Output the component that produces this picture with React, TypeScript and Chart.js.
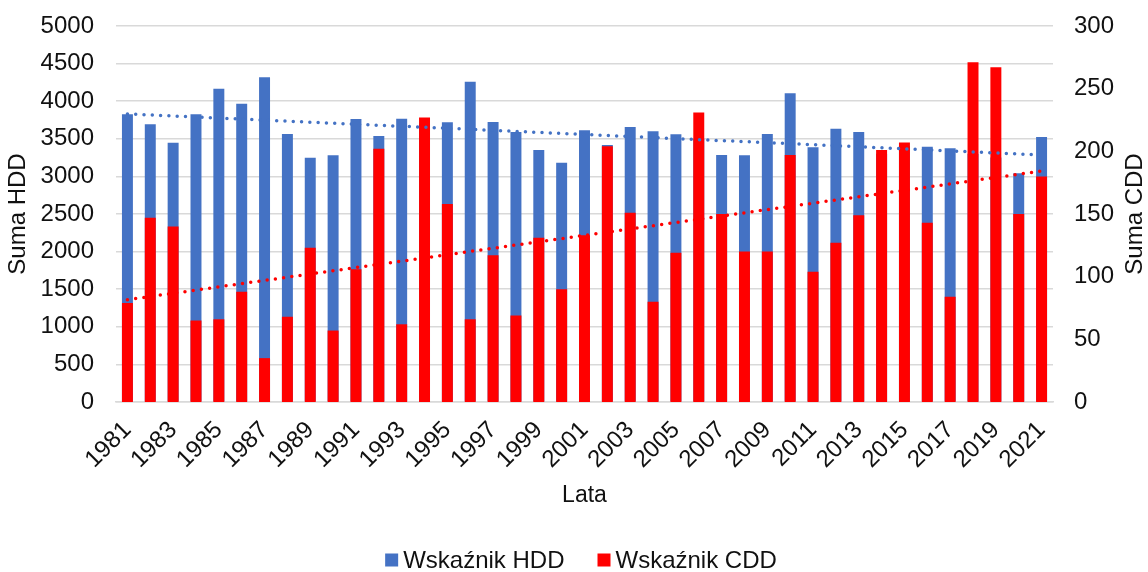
import React, { useEffect, useRef } from "react";
import { Chart, registerables } from "chart.js";

Chart.register(...registerables);

const years = [
  "1981","1982","1983","1984","1985","1986","1987","1988","1989","1990",
  "1991","1992","1993","1994","1995","1996","1997","1998","1999","2000",
  "2001","2002","2003","2004","2005","2006","2007","2008","2009","2010",
  "2011","2012","2013","2014","2015","2016","2017","2018","2019","2020","2021",
];

const hddValues = [
  3826, 3693, 3449, 3826, 4167, 3967, 4318, 3564, 3249, 3280,
  3763, 3537, 3768, 3700, 3719, 4260, 3723, 3590, 3351, 3182,
  3613, 3418, 3657, 3600, 3560, 3500, 3285, 3280, 3564, 4105,
  3387, 3635, 3590, 3300, 3400, 3395, 3373, 3300, 3250, 3041, 3524,
];

const cddValues = [
  79, 147, 140, 65, 66, 88, 35, 68, 123, 57,
  106, 202, 62, 227, 158, 66, 117, 69, 131, 90,
  133, 204, 151, 80, 119, 231, 150, 120, 120, 197,
  104, 127, 149, 201, 207, 143, 84, 271, 267, 150, 180,
];

// trend line end values (first year, last year)
const hddTrend = [3830, 3285];
const cddTrend = [81.6, 184.3];

const leftTicks = [0, 500, 1000, 1500, 2000, 2500, 3000, 3500, 4000, 4500, 5000];
const rightTicks = [0, 50, 100, 150, 200, 250, 300];

const FONT = "'Liberation Sans', Arial, sans-serif";
const TXT = "#111111";
const FS = 24;
const BLUE = "#4472C4";
const RED = "#FF0000";

function trendData(ends: number[]) {
  const last = years.length - 1;
  return years.map((_, i) => (i === 0 ? ends[0] : i === last ? ends[1] : null));
}

const extrasPlugin = {
  id: "extras",
  afterDraw(chart: any) {
    const { ctx, chartArea } = chart;
    ctx.save();
    ctx.font = `${FS}px ${FONT}`;
    ctx.fillStyle = TXT;
    // right axis title, reading bottom-to-top
    ctx.textAlign = "center";
    ctx.textBaseline = "middle";
    ctx.save();
    ctx.translate(1135, (chartArea.top + chartArea.bottom) / 2);
    ctx.rotate(-Math.PI / 2);
    ctx.fillText("Suma CDD", 0, 0);
    ctx.restore();
    // legend
    const items = [0, 1].map((i) => ({
      label: chart.data.datasets[i].label as string,
      color: chart.data.datasets[i].backgroundColor as string,
    }));
    const box = 13;
    const gap = 5;
    const itemGap = 33;
    const widths = items.map((it) => box + gap + ctx.measureText(it.label).width);
    const total = widths[0] + itemGap + widths[1];
    let x = 581 - total / 2;
    const cy = 560;
    ctx.textAlign = "left";
    items.forEach((it, i) => {
      ctx.fillStyle = it.color;
      ctx.fillRect(x, cy - box / 2, box, box);
      ctx.fillStyle = TXT;
      ctx.fillText(it.label, x + box + gap, cy + 1);
      x += widths[i] + itemGap;
    });
    ctx.restore();
  },
};

export default function App() {
  const ref = useRef<HTMLCanvasElement | null>(null);

  useEffect(() => {
    document.body.style.margin = "0";
    const canvas = ref.current;
    if (!canvas) return;
    const chart = new Chart(canvas, {
      type: "bar",
      data: {
        labels: years,
        datasets: [
          {
            type: "bar",
            label: "Wskaźnik HDD",
            data: hddValues,
            backgroundColor: BLUE,
            borderWidth: 0,
            yAxisID: "y",
            grouped: false,
            order: 3,
            barPercentage: 0.48,
            categoryPercentage: 1,
          } as any,
          {
            type: "bar",
            label: "Wskaźnik CDD",
            data: cddValues,
            backgroundColor: RED,
            borderWidth: 0,
            yAxisID: "y1",
            grouped: false,
            order: 2,
            barPercentage: 0.48,
            categoryPercentage: 1,
          } as any,
          {
            type: "line",
            label: "trend HDD",
            data: trendData(hddTrend),
            borderColor: BLUE,
            borderWidth: 3.5,
            borderDash: [0, 8.3],
            borderCapStyle: "round",
            pointRadius: 0,
            spanGaps: true,
            yAxisID: "y",
            order: 1,
          } as any,
          {
            type: "line",
            label: "trend CDD",
            data: trendData(cddTrend),
            borderColor: RED,
            borderWidth: 3.5,
            borderDash: [0, 8.3],
            borderCapStyle: "round",
            pointRadius: 0,
            spanGaps: true,
            yAxisID: "y1",
            order: 0,
          } as any,
        ],
      },
      options: {
        animation: false,
        responsive: false,
        maintainAspectRatio: false,
        layout: { padding: { left: 0, right: 0, top: 26, bottom: 60 } },
        plugins: {
          tooltip: { enabled: false },
          legend: { display: false },
        },
        scales: {
          x: {
            offset: true,
            grid: { display: false, drawTicks: false },
            border: { display: true, color: "#d9d9d9", width: 1.5 },
            afterFit: (s: any) => {
              s.height = 110;
              s.paddingLeft = 0;
              s.paddingRight = 0;
            },
            ticks: {
              autoSkip: false,
              maxRotation: 45,
              minRotation: 45,
              padding: 14,
              color: TXT,
              font: { size: FS, family: FONT },
              callback: (_v: any, i: number) => (i % 2 === 0 ? years[i] : ""),
            },
            title: {
              display: true,
              text: "Lata",
              color: TXT,
              font: { size: 23, family: FONT },
              padding: { top: 4, bottom: 3 },
            },
          },
          y: {
            position: "left",
            min: 0,
            max: 5000,
            afterBuildTicks: (axis: any) => {
              axis.ticks = leftTicks.map((v) => ({ value: v }));
            },
            afterFit: (s: any) => {
              s.width = 116;
              s.paddingTop = 0;
              s.paddingBottom = 0;
            },
            grid: { color: "#d9d9d9", lineWidth: 1.5, drawTicks: false },
            border: { display: false },
            ticks: {
              padding: 22,
              color: TXT,
              font: { size: FS, family: FONT },
              callback: (v: any) => String(v),
            },
            title: {
              display: true,
              text: "Suma HDD",
              color: TXT,
              font: { size: FS, family: FONT },
              padding: { top: 4, bottom: 10 },
            },
          },
          y1: {
            position: "right",
            min: 0,
            max: 300,
            afterBuildTicks: (axis: any) => {
              axis.ticks = rightTicks.map((v) => ({ value: v }));
            },
            afterFit: (s: any) => {
              s.width = 95;
              s.paddingTop = 0;
              s.paddingBottom = 0;
            },
            grid: { display: false, drawTicks: false },
            border: { display: false },
            ticks: {
              padding: 21,
              color: TXT,
              font: { size: FS, family: FONT },
              callback: (v: any) => String(v),
            },
          },
        },
      },
      plugins: [extrasPlugin],
    });
    return () => chart.destroy();
  }, []);

  return (
    <div style={{ width: 1148, height: 572 }}>
      <canvas ref={ref} width={1148} height={572} style={{ width: 1148, height: 572, display: "block" }} />
    </div>
  );
}
